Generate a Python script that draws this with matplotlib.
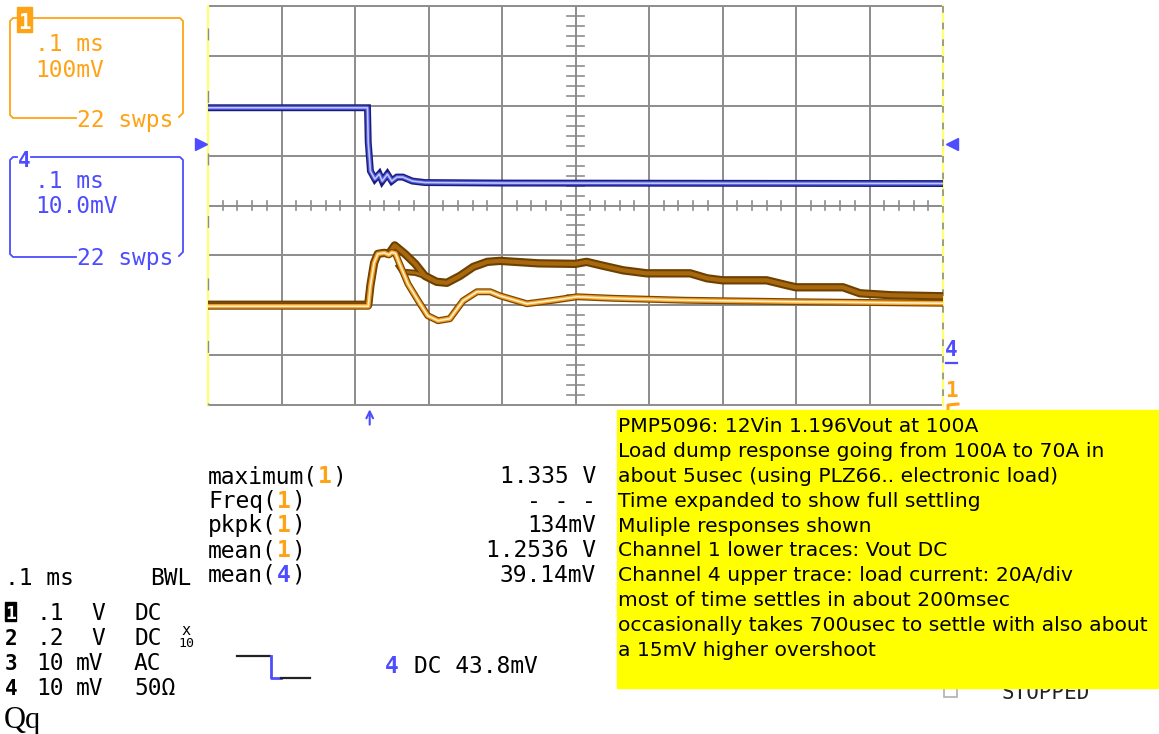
import matplotlib
matplotlib.use("Agg")
import numpy as np
import matplotlib.pyplot as plt
from matplotlib.lines import Line2D
from matplotlib.patches import Rectangle

W, H = 1159, 734

# tempo em divisoes (0.1 ms/div), amplitude em divisoes a partir do centro
t_ch4 = [0, 2.17, 2.18, 2.21, 2.27, 2.33, 2.37, 2.44, 2.50, 2.57, 2.65, 2.78, 2.95, 4.0, 10.0]
v_ch4 = [1.96, 1.96, 1.27, 0.69, 0.53, 0.63, 0.49, 0.63, 0.49, 0.57, 0.57, 0.49, 0.46, 0.45, 0.44]

# canal 1, resposta que assenta rapido (traco claro)
t_ch1a = [0, 2.18, 2.21, 2.26, 2.31, 2.40, 2.46, 2.50, 2.55, 2.59, 2.72, 2.86, 2.99, 3.13,
          3.29, 3.47, 3.66, 3.84, 3.97, 4.34, 4.70, 5.02, 5.50, 6.50, 8.00, 10.0]
v_ch1a = [-2.02, -2.02, -1.60, -1.15, -0.97, -0.95, -0.99, -0.94, -0.96, -1.11, -1.57, -1.91, -2.21, -2.31,
          -2.27, -1.91, -1.73, -1.73, -1.81, -1.97, -1.90, -1.83, -1.86, -1.90, -1.93, -1.96]

# canal 1, resposta lenta (traco escuro)
t_ch1b = [0, 2.18, 2.21, 2.26, 2.31, 2.40, 2.46, 2.54, 2.68, 2.82, 2.95, 3.11, 3.25, 3.43, 3.61,
          3.80, 3.97, 4.50, 5.00, 5.15, 5.35, 5.65, 5.97, 6.56, 6.79, 7.00, 7.60, 7.88, 8.00,
          8.64, 8.87, 9.30, 10.0]
v_ch1b = [-1.99, -1.99, -1.60, -1.15, -0.97, -0.95, -0.97, -0.80, -0.97, -1.17, -1.41, -1.53, -1.55, -1.41, -1.23,
          -1.13, -1.11, -1.16, -1.17, -1.13, -1.20, -1.30, -1.36, -1.36, -1.46, -1.50, -1.50, -1.60, -1.64,
          -1.64, -1.76, -1.80, -1.82]

# pedaco de uma terceira varredura
t_ch1c = [2.60, 2.65, 2.82, 2.95]
v_ch1c = [-1.22, -1.33, -1.35, -1.41]

meas_names = ["maximum", "Freq", "pkpk", "mean", "mean"]
meas_ch = ["1", "1", "1", "1", "4"]
meas_vals = ["1.335 V", "- - -", "134mV", "1.2536 V", "39.14mV"]

ch_num = ["1", "2", "3", "4"]
ch_scale = [".1", ".2", "10", "10"]
ch_unit = ["V", "V", "mV", "mV"]
ch_coup = ["DC", "DC", "AC", "50Ω"]

note_lines = [
    "PMP5096: 12Vin 1.196Vout at 100A",
    "Load dump response going from 100A to 70A in",
    "about 5usec (using PLZ66.. electronic load)",
    "Time expanded to show full settling",
    "Muliple responses shown",
    "Channel 1 lower traces: Vout DC",
    "Channel 4 upper trace: load current: 20A/div",
    "most of time settles in about 200msec",
    "occasionally takes 700usec to settle with also about",
    "a 15mV higher overshoot",
]

ORANGE = "#ffa316"
BLUE = "#4d4dff"
GRID = "#8c8c8c"
MONO = "DejaVu Sans Mono"
FS = 16.5

fig = plt.figure(figsize=(W / 100, H / 100), dpi=100)
fig.patch.set_facecolor("white")


def fpos(x, y):
    return x / W, 1 - y / H


def label(x, y, s, color="black", size=FS, ha="left", weight="normal", family=MONO, z=3, **kw):
    fx, fy = fpos(x, y)
    fig.text(fx, fy, s, color=color, fontsize=size, ha=ha, va="baseline",
             fontfamily=family, fontweight=weight, zorder=z, **kw)


def poly(xs, ys, color, lw=1.3, z=2):
    fig.add_artist(Line2D([x / W for x in xs], [1 - y / H for y in ys], color=color,
                          lw=lw, transform=fig.transFigure, zorder=z))


# ---- area do graticulado
ax = fig.add_axes([208 / W, 1 - 405 / H, 735 / W, 399 / H])
ax.set_xlim(0, 10)
ax.set_ylim(-4, 4)
ax.axis("off")

for x in range(1, 10):
    ax.axvline(x, color=GRID, lw=1.4, zorder=1)
for y in range(-3, 4):
    ax.axhline(y, color=GRID, lw=1.4, zorder=1)
ax.plot([0, 10], [4, 4], color=GRID, lw=1.4, clip_on=False, zorder=1)
ax.plot([0, 10], [-4, -4], color=GRID, lw=1.4, clip_on=False, zorder=1)

# bordas laterais amarelas com tracejado cinza
for xe in (0, 10):
    ax.plot([xe, xe], [4, -4], color="#ffff70", lw=1.6, clip_on=False, zorder=1)
ax.plot([0, 0], [4, -4], color=GRID, lw=1.0, clip_on=False, zorder=1.5,
        linestyle=(29.2, (8.6, 36.4)))
ax.plot([10, 10], [4, -4], color=GRID, lw=1.2, clip_on=False, zorder=1.5,
        linestyle=(0, (4, 6)))

# marcas menores nas linhas centrais
for i in range(1, 50):
    if i % 5:
        ax.plot([i * 0.2, i * 0.2], [-0.1, 0.1], color=GRID, lw=1.2, zorder=1)
for i in range(-19, 20):
    if i % 5:
        ax.plot([4.89, 5.11], [i * 0.2, i * 0.2], color=GRID, lw=1.2, zorder=1)

# tracos
ax.plot(t_ch4, v_ch4, color="#1c1c78", lw=5.0, zorder=5, solid_joinstyle="miter")
ax.plot(t_ch4, v_ch4, color="#4a55d8", lw=3.0, zorder=6)
ax.plot(t_ch4, v_ch4, color="#c0c6ff", lw=1.2, zorder=7)

ax.plot(t_ch1b, v_ch1b, color="#6e4000", lw=6.0, zorder=3)
ax.plot(t_ch1b, v_ch1b, color="#a8680e", lw=3.0, zorder=3.1)
ax.plot(t_ch1c, v_ch1c, color="#6e4000", lw=4.5, zorder=3)
ax.plot(t_ch1c, v_ch1c, color="#a8680e", lw=2.0, zorder=3.1)

ax.plot(t_ch1a, v_ch1a, color="#7a4800", lw=5.0, zorder=4)
ax.plot(t_ch1a, v_ch1a, color="#f5a22a", lw=3.2, zorder=4.1)
ax.plot(t_ch1a, v_ch1a, color="#fff0c8", lw=1.2, zorder=4.2)

# marcadores de nivel e de disparo
ax.plot([-0.1], [1.24], marker=">", ms=9, color=BLUE, clip_on=False, lw=0)
ax.plot([10.12], [1.24], marker="<", ms=9, color=BLUE, clip_on=False, lw=0)
ax.annotate("", xy=(2.2, -4.03), xytext=(2.2, -4.45), annotation_clip=False,
            arrowprops=dict(arrowstyle="->", color=BLUE, lw=1.5, mutation_scale=12))

# rotulos a direita
label(945, 356, "4", color=BLUE, size=15, weight="bold")
poly([946, 957], [363, 363], BLUE, lw=1.6)
label(945, 397, "1", color=ORANGE, size=15, weight="bold")
poly([948, 948, 958], [411, 405, 404], ORANGE, lw=2.2)

# ---- caixas dos canais a esquerda
poly([17, 13, 10, 10, 13, 76], [18, 18, 21, 115, 118, 118], ORANGE)
poly([33, 180, 183, 183, 179], [18, 18, 21, 113, 117], ORANGE)
fig.add_artist(Rectangle(fpos(17, 32), 15 / W, 25 / H, transform=fig.transFigure,
                         color=ORANGE, zorder=2))
label(24.5, 29, "1", color="white", size=15, ha="center", weight="bold", z=4)
label(35, 51, ".1 ms", color=ORANGE)
label(35, 77, "100mV", color=ORANGE)
label(77, 127, "22 swps", color=ORANGE)

poly([17, 13, 10, 10, 13, 76], [157, 157, 160, 254, 257, 257], BLUE)
poly([31, 180, 183, 183, 179], [157, 157, 160, 252, 256], BLUE)
label(24, 167, "4", color=BLUE, size=15, ha="center", weight="bold")
label(35, 188, ".1 ms", color=BLUE)
label(35, 213, "10.0mV", color=BLUE)
label(77, 265, "22 swps", color=BLUE)

# ---- medicoes
pitch = 0.602 * FS * 100 / 72
base = [483, 508, 532, 557, 582]
for name, ch, val, yb in zip(meas_names, meas_ch, meas_vals, base):
    label(208, yb, name + "(")
    label(208 + pitch * (len(name) + 1), yb, ch, color=ORANGE if ch == "1" else BLUE, weight="bold")
    label(208 + pitch * (len(name) + 2), yb, ")")
    label(596, yb, val, ha="right")

# ---- tabela de canais
label(5, 585, ".1 ms")
label(150, 585, "BWL")
rows = [620, 645, 670, 695]
for n, s, u, c, yb in zip(ch_num, ch_scale, ch_unit, ch_coup, rows):
    if n == "1":
        fig.add_artist(Rectangle(fpos(5, yb + 1), 11 / W, 19 / H, transform=fig.transFigure,
                                 color="black", zorder=2))
        label(10.5, yb - 1, n, color="white", size=13, ha="center", weight="bold", z=4)
    else:
        label(5, yb, n, size=15, weight="bold")
    label(36, yb, s)
    label(91 if u == "V" else 76, yb, u)
    label(134, yb, c)
label(186, 635, "x", size=11, ha="center")
label(186, 647, "10", size=9.5, ha="center")

# icone do degrau de disparo
poly([237, 270], [656, 656], "#222222", lw=1.6)
poly([271, 271, 281], [656, 678, 678], BLUE, lw=2.0)
poly([281, 310], [678, 678], "#222222", lw=1.6)
label(385, 673, "4", color=BLUE, weight="bold")
label(414, 673, "DC 43.8mV")

label(4, 728, "Qq", size=22, family="Liberation Serif")

# ---- STOPPED, quase todo escondido pela caixa amarela
fig.add_artist(Rectangle(fpos(944, 697), 13 / W, 13 / H, transform=fig.transFigure,
                         fill=False, ec="#b0b0b0", lw=1.2, zorder=5))
label(1002, 699, "STOPPED", color="#222222", size=15, z=5)

# ---- caixa de anotacao
fig.add_artist(Rectangle(fpos(617, 688), (W - 617) / W, 278 / H, transform=fig.transFigure,
                         color="#ffff00", zorder=10))
for i, line in enumerate(note_lines):
    label(618, 432 + i * 24.9, line, size=14.6, family="DejaVu Sans", z=11)

fig.savefig("out.png", dpi=100)
